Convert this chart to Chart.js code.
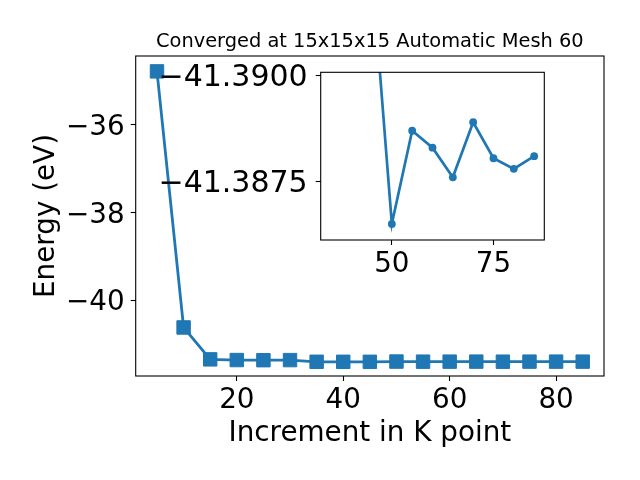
<!DOCTYPE html>
<html>
<head>
<meta charset="utf-8">
<script src="https://cdn.jsdelivr.net/npm/chart.js@4"></script>
<style>
  body { margin: 0; background: #fff; }
  #wrap { position: relative; width: 640px; height: 480px; }
  #mainChart { position: absolute; left: 0; top: 0; }
  #insetChart { position: absolute; left: 140px; top: 55px; }
</style>
</head>
<body>
<div id="wrap">
  <canvas id="mainChart" width="640" height="480"></canvas>
  <canvas id="insetChart" width="420" height="235"></canvas>
</div>
<script>
// k point increments and total energies (eV)
const kPoints = [5, 10, 15, 20, 25, 30, 35, 40, 45, 50, 55, 60, 65, 70, 75, 80, 85];
const energy = [-34.78, -40.61, -41.336, -41.352, -41.355, -41.353, -41.3918, -41.3922, -41.3926,
  -41.3865, -41.3887, -41.3883, -41.3876, -41.3889, -41.38805, -41.3878, -41.3881];

const xTicks = [20, 40, 60, 80];
const yTicks = [-40, -38, -36];

// zoomed inset: only k >= 35
const insetFrom = 35;
const insetXTicks = [50, 75];
const insetYTicks = [-41.39, -41.3875];

const titleText = 'Converged at 15x15x15 Automatic Mesh 60';
const blue = '#1f77b4';
const minus = s => s.replace('-', '\u2212');

Chart.defaults.font.family = "'DejaVu Sans'";
Chart.defaults.color = '#000';

// matplotlib style box round the axes
const frame = {
  id: 'frame',
  beforeDraw(chart) {
    const {ctx, chartArea: a} = chart;
    ctx.save();
    ctx.fillStyle = '#fff';
    ctx.fillRect(a.left, a.top, a.right - a.left, a.bottom - a.top);
    ctx.restore();
  },
  afterDatasetsDraw(chart) {
    const {ctx, chartArea: a} = chart;
    ctx.save();
    ctx.strokeStyle = '#000';
    ctx.lineWidth = 1.1;
    ctx.strokeRect(a.left, a.top, a.right - a.left, a.bottom - a.top);
    ctx.restore();
  }
};

// title centred over the axes, like plt.title
const axesTitle = {
  id: 'axesTitle',
  afterDraw(chart) {
    const {ctx, chartArea: a} = chart;
    ctx.save();
    ctx.font = "19.4px 'DejaVu Sans'";
    ctx.fillStyle = '#000';
    ctx.textAlign = 'center';
    ctx.textBaseline = 'alphabetic';
    ctx.fillText(titleText, (a.left + a.right) / 2, a.top - 9);
    ctx.restore();
  }
};

function axis(opts) {
  return Object.assign({
    type: 'linear',
    border: { display: false },
    grid: { drawOnChartArea: false, color: '#000', tickColor: '#000', tickLength: 5, tickWidth: 1.1 },
  }, opts);
}

const mainPoints = kPoints.map((k, i) => ({ x: k, y: energy[i] }));

new Chart(document.getElementById('mainChart'), {
  type: 'line',
  data: {
    datasets: [{
      data: mainPoints,
      borderColor: blue,
      backgroundColor: blue,
      borderWidth: 2.8,
      pointStyle: 'rect',
      pointRadius: 9.5,
      pointBorderWidth: 1,
      pointBorderColor: blue,
      tension: 0
    }]
  },
  options: {
    responsive: false,
    animation: false,
    events: [],
    layout: { padding: { left: 0, right: 36, top: 56, bottom: 0 } },
    plugins: {
      legend: { display: false },
      tooltip: { enabled: false },
      title: { display: false }
    },
    scales: {
      x: axis({
        min: 1, max: 89,
        afterBuildTicks: s => { s.ticks = xTicks.map(v => ({ value: v })); },
        afterFit: s => { s.height = 104; s.paddingLeft = 0; s.paddingRight = 0; },
        ticks: { font: { size: 27.8 }, padding: 3.5, callback: v => String(v) },
        title: { display: true, text: 'Increment in K point', font: { size: 27.8 }, padding: { bottom: 30 } }
      }),
      y: axis({
        min: -41.715, max: -34.43,
        afterBuildTicks: s => { s.ticks = yTicks.map(v => ({ value: v })); },
        afterFit: s => { s.width = 135.7; s.paddingTop = 0; s.paddingBottom = 0; },
        ticks: { font: { size: 27.8 }, padding: 6, labelOffset: 2.5, callback: v => minus(String(v)) },
        title: { display: true, text: 'Energy (eV)', font: { size: 27.8 }, padding: { top: 30 } }
      })
    }
  },
  plugins: [frame, axesTitle]
});

const insetPoints = mainPoints.filter(p => p.x >= insetFrom);

new Chart(document.getElementById('insetChart'), {
  type: 'line',
  data: {
    datasets: [{
      data: insetPoints,
      borderColor: blue,
      backgroundColor: blue,
      borderWidth: 2.7,
      pointRadius: 3.9,
      pointBorderWidth: 0,
      tension: 0,
      clip: 0
    }]
  },
  options: {
    responsive: false,
    animation: false,
    events: [],
    layout: { padding: { left: 0, right: 15.7, top: 17.3, bottom: 0 } },
    plugins: { legend: { display: false }, tooltip: { enabled: false } },
    scales: {
      x: axis({
        min: 32.5, max: 87.5,
        afterBuildTicks: s => { s.ticks = insetXTicks.map(v => ({ value: v })); },
        afterFit: s => { s.height = 50; s.paddingLeft = 0; s.paddingRight = 0; },
        ticks: { font: { size: 27.8 }, padding: 3, callback: v => String(v) }
      }),
      y: axis({
        min: -41.39008, max: -41.38612, reverse: true,
        afterBuildTicks: s => { s.ticks = insetYTicks.map(v => ({ value: v })); },
        afterFit: s => { s.width = 180.7; s.paddingTop = 0; s.paddingBottom = 0; },
        ticks: { font: { size: 30 }, padding: 8, labelOffset: 2.5, callback: v => minus(v.toFixed(4)) }
      })
    }
  },
  plugins: [frame]
});
</script>
</body>
</html>
